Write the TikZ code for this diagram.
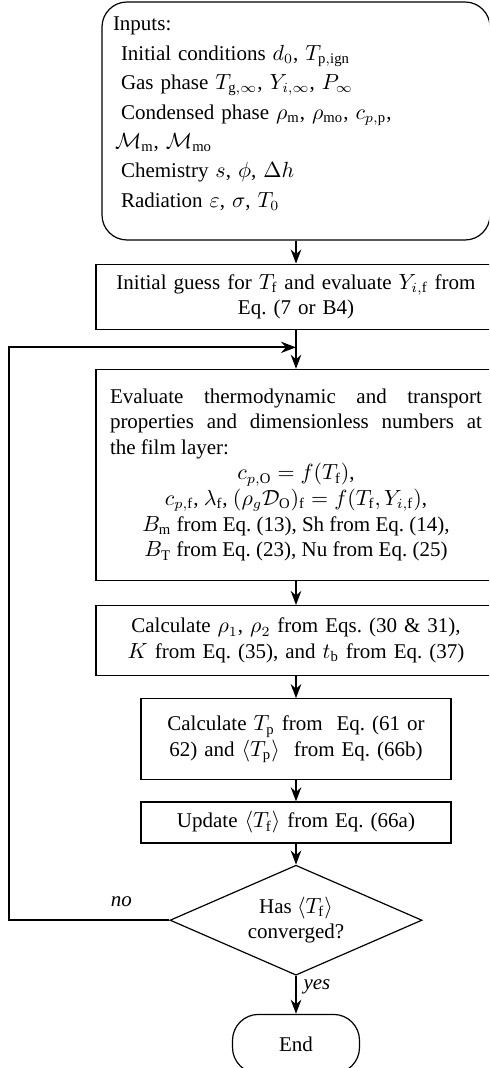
\documentclass[tikz,border=0pt]{standalone}
\usepackage{fontspec}
\setmainfont{Liberation Serif}
\usetikzlibrary{shapes.geometric, calc, arrows.meta, positioning}
\frenchspacing

\begin{document}
\begin{tikzpicture}[>=Stealth, font=\fontsize{10.5}{12.8}\selectfont,
  box/.style={draw, line width=0.6pt, align=center, text width=186pt, inner xsep=7pt, inner ysep=2pt},
  smallbox/.style={box, text width=141pt},
  start/.style={draw, line width=0.6pt, rounded corners=12.5pt, align=left, text width=183pt, inner xsep=5.5pt},
  decide/.style={draw, diamond, line width=0.6pt, align=center, aspect=2.3, inner sep=0pt, minimum width=126pt, minimum height=55pt},
  flow/.style={->, line width=0.9pt}]
\useasboundingbox (0,0) rectangle (244.5pt,-534pt);
\clip (0,0) rectangle (244.5pt,-534pt);
\node[start, minimum height=119pt, text depth=97pt, font=\fontsize{10.5}{14.7}\selectfont] (inputs) at (148pt,-60.5pt) {Inputs:\\
\hspace*{4pt}Initial conditions $d_0$, $T_{\mathrm{p,ign}}$\\
\hspace*{4pt}Gas phase $T_{\mathrm{g},\infty}$, $Y_{i,\infty}$, $P_\infty$\\
\hspace*{4pt}Condensed phase $\rho_\mathrm{m}$, $\rho_\mathrm{mo}$, $c_{p,\mathrm{p}}$,\\
\hspace*{1pt}$\mathcal{M}_\mathrm{m}$, $\mathcal{M}_\mathrm{mo}$\\
\hspace*{4pt}Chemistry $s$, $\phi$, $\Delta h$\\
\hspace*{4pt}Radiation $\varepsilon$, $\sigma$, $T_0$};
\node[box, minimum height=32.5pt, below=11.5pt of inputs] (guess) {Initial guess for $T_\mathrm{f}$ and evaluate $Y_{i,\mathrm{f}}$ from\\ Eq. (7 or B4)};
\node[box, align=justify, minimum height=105.5pt, below=19.5pt of guess] (props) {Evaluate thermodynamic and transport\linebreak properties and dimensionless numbers at\linebreak the film layer:\par
{\centering $c_{p,\mathrm{O}} = f(T_\mathrm{f})$,\\
$c_{p,\mathrm{f}}$, $\lambda_\mathrm{f}$, $(\rho_g \mathcal{D}_\mathrm{O})_\mathrm{f} = f(T_\mathrm{f}, Y_{i,\mathrm{f}})$,\\
$B_\mathrm{m}$ from Eq. (13), Sh from Eq. (14),\\
$B_\mathrm{T}$ from Eq. (23), Nu from Eq. (25)\par}};
\node[box, minimum height=35pt, below=12pt of props] (rates) {Calculate $\rho_1$, $\rho_2$ from Eqs. (30 \& 31),\\ $K$ from Eq. (35), and $t_\mathrm{b}$ from Eq. (37)};
\node[smallbox, minimum height=40.5pt, below=11pt of rates] (temp) {Calculate $T_\mathrm{p}$ from~ Eq. (61 or\\ 62) and $\langle T_\mathrm{p}\rangle$~ from Eq. (66b)};
\node[smallbox, minimum height=20.5pt, below=10.5pt of temp] (update) {Update $\langle T_\mathrm{f}\rangle$ from Eq. (66a)};
\node[decide, below=10.5pt of update] (conv) {Has $\langle T_\mathrm{f}\rangle$\\ converged?};
\node[draw, line width=0.6pt, rounded corners=13pt, minimum width=63.5pt, minimum height=29.5pt, below=19pt of conv] (stop) {End};
\coordinate (join) at ($(guess.south)!0.45!(props.north)$);
\draw[flow] (inputs) -- (guess);
\draw[flow] (guess) -- (props);
\draw[flow] (props) -- (rates);
\draw[flow] (rates) -- (temp);
\draw[flow] (temp) -- (update);
\draw[flow] (update) -- (conv);
\draw[flow, line width=1pt] (conv.west) -- node[pos=0.3, above=3pt] {\textit{no}} ++(-80pt,0) |- (join);
\draw[flow] (conv) -- node[right, pos=0.3] {\textit{yes}} (stop);
\end{tikzpicture}
\end{document}
